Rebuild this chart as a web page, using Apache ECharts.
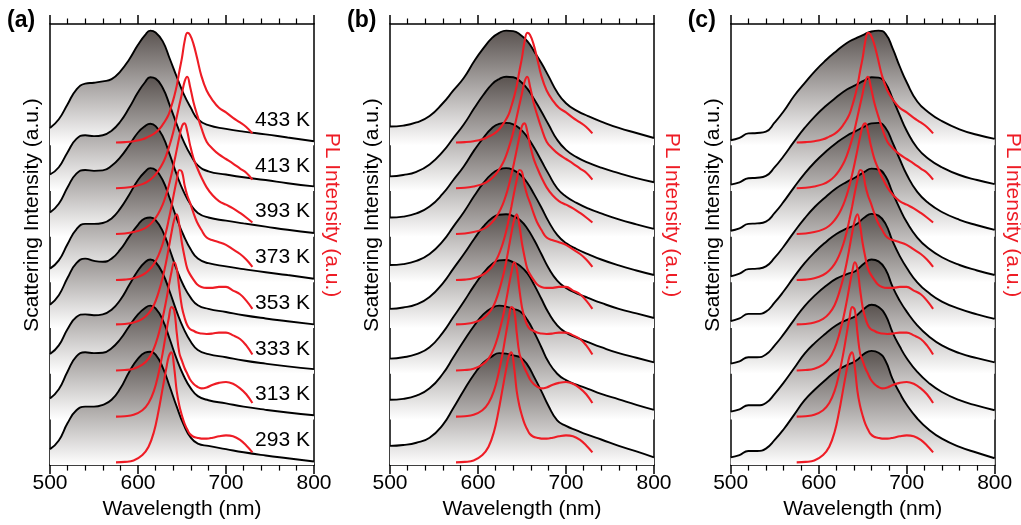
<!DOCTYPE html>
<html><head><meta charset="utf-8">
<script src="https://cdn.jsdelivr.net/npm/echarts@6/dist/echarts.min.js"></script>
<style>html,body{margin:0;padding:0;background:#fff}#c{width:1021px;height:525px}</style>
</head><body><div id="c"></div>
<script>
// ---- data (index 0 = 293 K ... index 7 = 433 K); offsets are waterfall offsets in a.u.
const temps = ['293 K','313 K','333 K','353 K','373 K','393 K','413 K','433 K'];
const offsets = [0,1,2,3,4,5,6,7];
const xTicks = [500,600,700,800];

// Panel (a) scattering
const wlA = [500,510,520,530,540,550,560,570,580,590,600,608,614,620,628,636,644,652,660,668,680,700,720,745,770,800];
const scatA_293 = [0.35,0.54,0.92,1.20,1.28,1.28,1.32,1.43,1.68,2.04,2.33,2.46,2.48,2.42,2.14,1.72,1.28,0.88,0.60,0.47,0.42,0.35,0.28,0.21,0.15,0.08];
const scatA_313 = [0.46,0.66,1.05,1.38,1.47,1.45,1.46,1.56,1.76,2.04,2.30,2.44,2.49,2.43,2.18,1.76,1.32,0.95,0.68,0.51,0.42,0.35,0.28,0.21,0.15,0.09];
const scatA_333 = [0.43,0.62,0.98,1.24,1.30,1.28,1.30,1.40,1.62,1.94,2.26,2.44,2.50,2.44,2.20,1.80,1.36,0.98,0.70,0.52,0.43,0.36,0.29,0.22,0.16,0.10];
const scatA_353 = [0.51,0.72,1.10,1.42,1.52,1.47,1.45,1.52,1.72,2.00,2.26,2.40,2.42,2.36,2.12,1.72,1.28,0.92,0.66,0.50,0.42,0.35,0.28,0.21,0.15,0.08];
const scatA_373 = [0.30,0.48,0.84,1.16,1.28,1.28,1.30,1.40,1.62,1.92,2.24,2.42,2.50,2.46,2.24,1.84,1.40,1.02,0.72,0.52,0.42,0.35,0.29,0.22,0.16,0.08];
const scatA_393 = [0.53,0.72,1.08,1.38,1.46,1.44,1.45,1.55,1.74,2.00,2.28,2.42,2.47,2.42,2.20,1.80,1.36,0.98,0.70,0.52,0.42,0.35,0.29,0.22,0.15,0.08];
const scatA_413 = [0.36,0.52,0.85,1.14,1.22,1.20,1.22,1.32,1.52,1.82,2.16,2.38,2.49,2.46,2.26,1.88,1.46,1.08,0.78,0.56,0.43,0.36,0.30,0.24,0.17,0.10];
const scatA_433 = [0.38,0.57,0.90,1.22,1.35,1.37,1.40,1.45,1.62,1.88,2.20,2.41,2.51,2.47,2.28,1.90,1.50,1.12,0.82,0.57,0.44,0.36,0.30,0.24,0.17,0.09];

// Panel (b) scattering
const wlB = [500,515,530,545,560,572,584,596,606,616,624,632,640,648,656,664,672,680,690,700,712,725,740,760,780,800];
const scatB_293 = [0.42,0.44,0.49,0.60,0.88,1.25,1.64,2.00,2.24,2.38,2.45,2.44,2.40,2.36,2.20,1.92,1.62,1.30,0.98,0.86,0.76,0.66,0.56,0.42,0.30,0.17];
const scatB_313 = [0.43,0.45,0.52,0.68,1.00,1.36,1.72,2.06,2.30,2.44,2.49,2.47,2.42,2.36,2.18,1.90,1.58,1.26,1.00,0.86,0.76,0.67,0.56,0.44,0.32,0.21];
const scatB_333 = [0.33,0.36,0.43,0.58,0.90,1.24,1.58,1.94,2.20,2.40,2.48,2.49,2.44,2.36,2.20,1.94,1.64,1.34,1.06,0.90,0.79,0.69,0.58,0.45,0.35,0.25];
const scatB_353 = [0.42,0.45,0.52,0.68,0.98,1.30,1.62,1.96,2.22,2.41,2.48,2.49,2.45,2.36,2.18,1.92,1.62,1.32,1.04,0.88,0.76,0.66,0.55,0.42,0.32,0.22];
const scatB_373 = [0.38,0.40,0.47,0.62,0.90,1.22,1.54,1.90,2.17,2.38,2.47,2.50,2.46,2.36,2.18,1.92,1.64,1.34,1.04,0.86,0.73,0.62,0.50,0.37,0.26,0.16];
const scatB_393 = [0.42,0.44,0.51,0.66,0.94,1.24,1.54,1.90,2.16,2.38,2.47,2.49,2.46,2.36,2.18,1.94,1.66,1.38,1.06,0.88,0.74,0.62,0.51,0.38,0.27,0.17];
const scatB_413 = [0.32,0.35,0.42,0.58,0.86,1.16,1.46,1.82,2.10,2.34,2.45,2.50,2.49,2.40,2.24,2.00,1.74,1.46,1.12,0.90,0.74,0.62,0.51,0.39,0.28,0.19];
const scatB_433 = [0.41,0.43,0.50,0.64,0.92,1.20,1.48,1.85,2.12,2.35,2.46,2.51,2.50,2.42,2.28,2.05,1.80,1.52,1.16,0.92,0.76,0.64,0.52,0.38,0.27,0.16];

// Panel (c) scattering
const wlC = [500,510,520,530,540,550,560,572,584,596,608,620,632,642,652,660,668,676,684,692,700,712,725,740,760,780,800];
const scatC_293 = [0.17,0.22,0.31,0.31,0.36,0.55,0.78,1.10,1.42,1.66,1.87,2.06,2.19,2.28,2.44,2.50,2.46,2.28,1.88,1.58,1.32,1.02,0.78,0.58,0.40,0.27,0.15];
const scatC_313 = [0.17,0.22,0.31,0.31,0.36,0.56,0.80,1.12,1.44,1.68,1.88,2.06,2.18,2.26,2.43,2.51,2.46,2.28,1.90,1.60,1.34,1.04,0.80,0.60,0.42,0.30,0.20];
const scatC_333 = [0.22,0.27,0.36,0.36,0.42,0.62,0.86,1.18,1.48,1.72,1.92,2.08,2.18,2.25,2.42,2.50,2.46,2.28,1.90,1.60,1.36,1.06,0.82,0.62,0.45,0.34,0.25];
const scatC_353 = [0.15,0.21,0.31,0.31,0.36,0.56,0.80,1.12,1.42,1.67,1.88,2.06,2.18,2.26,2.42,2.50,2.46,2.28,1.90,1.58,1.32,1.00,0.77,0.58,0.42,0.30,0.20];
const scatC_373 = [0.13,0.19,0.29,0.30,0.35,0.54,0.78,1.10,1.40,1.66,1.87,2.06,2.20,2.30,2.42,2.49,2.47,2.32,1.96,1.62,1.32,0.98,0.74,0.55,0.38,0.26,0.16];
const scatC_393 = [0.13,0.18,0.28,0.29,0.33,0.52,0.76,1.08,1.38,1.64,1.86,2.05,2.21,2.31,2.41,2.48,2.49,2.38,2.06,1.70,1.36,0.98,0.73,0.54,0.37,0.25,0.15];
const scatC_413 = [0.14,0.19,0.28,0.29,0.33,0.52,0.76,1.08,1.38,1.64,1.86,2.05,2.22,2.32,2.42,2.49,2.48,2.36,2.02,1.66,1.32,0.94,0.70,0.52,0.35,0.24,0.15];
const scatC_433 = [0.11,0.16,0.26,0.27,0.30,0.50,0.74,1.08,1.36,1.63,1.86,2.06,2.24,2.34,2.43,2.49,2.51,2.44,2.12,1.73,1.38,0.96,0.72,0.53,0.35,0.23,0.14];

// PL spectra (same temperature series shown in every panel)
const wlPL = [575,585,595,605,612,618,623,628,632,635,638,641,644,647,650,653,656,659,663,667,672,678,685,692,700,708,716,723,730];
const pl_293 = [0.06,0.07,0.10,0.22,0.40,0.72,1.15,1.68,2.10,2.38,2.47,2.15,1.62,1.30,1.08,0.90,0.78,0.68,0.62,0.60,0.58,0.58,0.60,0.63,0.65,0.63,0.55,0.43,0.28];
const pl_313 = [0.06,0.07,0.10,0.20,0.36,0.62,0.98,1.45,1.90,2.22,2.46,2.40,1.90,1.45,1.28,1.12,1.00,0.88,0.78,0.72,0.68,0.70,0.76,0.80,0.82,0.78,0.68,0.55,0.36];
const pl_333 = [0.07,0.08,0.11,0.20,0.33,0.55,0.84,1.22,1.60,1.92,2.22,2.44,2.30,1.85,1.45,1.22,1.06,0.98,0.94,0.90,0.88,0.87,0.88,0.90,0.90,0.84,0.76,0.62,0.42];
const pl_353 = [0.08,0.09,0.12,0.20,0.32,0.50,0.76,1.10,1.45,1.76,2.08,2.36,2.49,2.25,1.85,1.55,1.30,1.18,1.06,0.96,0.90,0.88,0.88,0.90,0.90,0.82,0.74,0.60,0.42];
const pl_373 = [0.05,0.06,0.09,0.16,0.26,0.40,0.58,0.84,1.12,1.38,1.66,1.96,2.24,2.46,2.42,2.12,1.90,1.75,1.52,1.32,1.15,0.98,0.92,0.88,0.82,0.72,0.62,0.50,0.34];
const pl_393 = [0.06,0.07,0.10,0.16,0.24,0.36,0.50,0.70,0.92,1.12,1.36,1.62,1.90,2.18,2.42,2.48,2.30,2.02,1.72,1.52,1.30,1.08,0.90,0.78,0.70,0.62,0.52,0.42,0.31];
const pl_413 = [0.06,0.07,0.10,0.15,0.22,0.32,0.44,0.60,0.78,0.95,1.14,1.36,1.62,1.88,2.14,2.40,2.50,2.30,1.95,1.68,1.38,1.08,0.92,0.80,0.70,0.60,0.49,0.40,0.25];
const pl_433 = [0.06,0.07,0.09,0.13,0.19,0.25,0.33,0.45,0.57,0.68,0.86,1.06,1.30,1.62,1.92,2.28,2.46,2.42,2.22,1.92,1.52,1.20,0.98,0.82,0.72,0.60,0.50,0.40,0.26];

const scatA = [scatA_293,scatA_313,scatA_333,scatA_353,scatA_373,scatA_393,scatA_413,scatA_433];
const scatB = [scatB_293,scatB_313,scatB_333,scatB_353,scatB_373,scatB_393,scatB_413,scatB_433];
const scatC = [scatC_293,scatC_313,scatC_333,scatC_353,scatC_373,scatC_393,scatC_413,scatC_433];
const plAll = [pl_293,pl_313,pl_333,pl_353,pl_373,pl_393,pl_413,pl_433];
const panels = [
  {name:'(a)', wl: wlA, scat: scatA, labels: true},
  {name:'(b)', wl: wlB, scat: scatB, labels: false},
  {name:'(c)', wl: wlC, scat: scatC, labels: false}
];

// ---- layout
const FONT = '"Liberation Sans", Arial, sans-serif';
const gridLefts = [50, 390, 730.7];
const GW = 264, GTOP = 24, GBOT = 54.3;
const YMAX = 9.655;
const RED = '#ee1c25';

const grids = [], xAxes = [], yAxes = [], series = [], graphics = [];
panels.forEach((p, k) => {
  grids.push({left: gridLefts[k], top: GTOP, width: GW, bottom: GBOT, containLabel: false});
  xAxes.push({
    type: 'value', gridIndex: k, min: 500, max: 800, interval: 100, position: 'bottom',
    axisLine: {show: true, onZero: false, lineStyle: {color: '#000', width: 1.5}},
    axisTick: {show: true, inside: false, length: 9, lineStyle: {color: '#000', width: 1.5}},
    minorTick: {show: true, splitNumber: 5, length: 5.5, lineStyle: {color: '#000', width: 1.2}},
    splitLine: {show: false}, minorSplitLine: {show: false},
    name: 'Wavelength (nm)', nameLocation: 'middle', nameGap: 25,
    nameTextStyle: {fontSize: 21, color: '#000', fontFamily: FONT},
    axisLabel: {show: true, margin: 8, fontSize: 21, color: '#000', fontFamily: FONT,
      formatter: v => (xTicks.indexOf(v) >= 0 ? String(v) : '')}
  });
  yAxes.push({type: 'value', gridIndex: k, min: 0, max: YMAX, position: 'left',
    axisLine: {show: true, lineStyle: {color: '#000', width: 1.5}},
    axisTick: {show: false}, axisLabel: {show: false}, splitLine: {show: false}});
});
panels.forEach((p, k) => {
  xAxes.push({type: 'value', gridIndex: k, min: 500, max: 800, interval: 100, position: 'top',
    axisLine: {show: true, onZero: false, lineStyle: {color: '#000', width: 1.5}},
    axisTick: {show: true, inside: false, length: 9, lineStyle: {color: '#000', width: 1.5}},
    minorTick: {show: true, splitNumber: 5, length: 5.5, lineStyle: {color: '#000', width: 1.2}},
    axisLabel: {show: false}, splitLine: {show: false}});
  yAxes.push({type: 'value', gridIndex: k, min: 0, max: YMAX, position: 'right',
    axisLine: {show: true, lineStyle: {color: '#000', width: 1.5}},
    axisTick: {show: false}, axisLabel: {show: false}, splitLine: {show: false}});
});

const grad = {type: 'linear', x: 0, y: 0, x2: 0, y2: 1,
  colorStops: [{offset: 0, color: '#5a5350'}, {offset: 1, color: '#ffffff'}]};

panels.forEach((p, k) => {
  // scattering: drawn from top (433 K) to bottom (293 K) so lower curves cover upper ones
  for (let i = 7; i >= 0; i--) {
    series.push({type: 'line', xAxisIndex: k, yAxisIndex: k, silent: true, z: 2,
      symbol: 'none', smooth: 0.5,
      lineStyle: {color: '#000', width: 1.9},
      areaStyle: {color: grad, opacity: 1, origin: offsets[i]},
      data: p.wl.map((x, j) => [x, offsets[i] + p.scat[i][j]])});
  }
  for (let i = 7; i >= 0; i--) {
    series.push({type: 'line', xAxisIndex: k, yAxisIndex: k, silent: true, z: 5,
      symbol: 'none', smooth: 0.4,
      lineStyle: {color: RED, width: 2.1},
      data: wlPL.map((x, j) => [x, offsets[i] + plAll[i][j]])});
  }
  const L = gridLefts[k];
  graphics.push({type: 'text', left: L - 43, top: 9,
    style: {text: p.name, font: 'bold 23px ' + FONT, fill: '#000'}});
  graphics.push({type: 'text', x: L - 17.5, y: 215, rotation: Math.PI / 2,
    style: {text: 'Scattering Intensity (a.u.)', font: '21px ' + FONT, fill: '#000',
      align: 'center', verticalAlign: 'middle'}});
  graphics.push({type: 'text', x: L + 282, y: 215, rotation: -Math.PI / 2,
    style: {text: 'PL Intensity (a.u.)', font: '21px ' + FONT, fill: RED,
      align: 'center', verticalAlign: 'middle'}});
});

const chart = echarts.init(document.getElementById('c'), null, {renderer: 'canvas'});
chart.setOption({
  animation: false,
  backgroundColor: '#fff',
  grid: grids, xAxis: xAxes, yAxis: yAxes, series: series, graphic: graphics
});
// temperature labels of panel (a), placed through the panel's own scales
temps.forEach((t, i) => {
  const pt = chart.convertToPixel({gridIndex: 0}, [800, offsets[i]]);
  graphics.push({type: 'text', x: pt[0] - 4, y: pt[1] - 25, z: 100,
    style: {text: t, font: '21px ' + FONT, fill: '#000', align: 'right', verticalAlign: 'middle'}});
});
chart.setOption({graphic: graphics});
</script></body></html>
